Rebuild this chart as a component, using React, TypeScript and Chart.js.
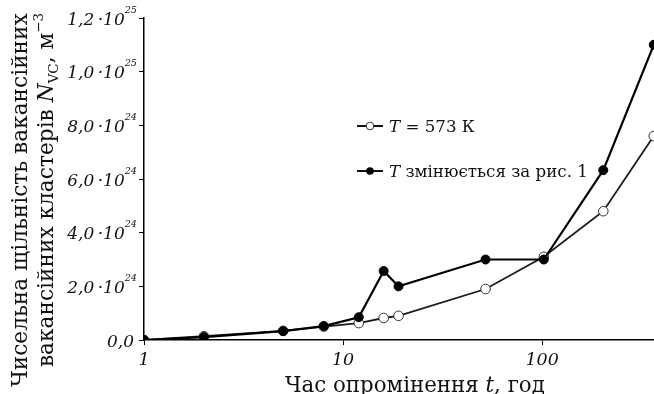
import React, { useEffect, useRef } from 'react';
import { Chart, registerables } from 'chart.js';

Chart.register(...registerables);

// ---- data ----
const hoursConst = [1, 2, 5, 8, 12, 16, 19, 52, 102, 203, 364];
const densityConst = [0, 0.14e24, 0.34e24, 0.5e24, 0.63e24, 0.82e24, 0.9e24, 1.9e24, 3.1e24, 4.8e24, 7.6e24];
const hoursVar = [1, 2, 5, 8, 12, 16, 19, 52, 102, 203, 364];
const densityVar = [0, 0.11e24, 0.33e24, 0.52e24, 0.85e24, 2.57e24, 2.0e24, 3.0e24, 3.0e24, 6.33e24, 1.1e25];

const xTickValues = [1, 10, 100];
const xTickLabels = ['1', '10', '100'];
const yTickValues = [0, 2e24, 4e24, 6e24, 8e24, 1e25, 1.2e25];
const yTickMantissas = ['0,0', '2,0', '4,0', '6,0', '8,0', '1,0', '1,2'];
const yTickExponents = ['', '24', '24', '24', '24', '25', '25'];

const legendSymbols = ['T', 'T'];
const legendTexts = [' = 573 К', ' змінюється за рис. 1'];
const yTitleLine1 = 'Чисельна щільність вакансійних';
const yTitleLine2 = 'вакансійних кластерів ';
const xTitleStart = 'Час опромінення ';
const xTitleEnd = ', год';

const SERIF = '"DejaVu Serif", "Liberation Serif", serif';
const INK = '#111';

type Run = { text: string; style?: string; scale?: number; dy?: number };

function runsWidth(ctx: CanvasRenderingContext2D, runs: Run[], size: number) {
  let w = 0;
  for (const r of runs) {
    ctx.font = `${r.style || 'normal'} ${size * (r.scale || 1)}px ${SERIF}`;
    w += ctx.measureText(r.text).width;
  }
  return w;
}

function drawRuns(ctx: CanvasRenderingContext2D, runs: Run[], x: number, y: number, size: number) {
  let cx = x;
  for (const r of runs) {
    ctx.font = `${r.style || 'normal'} ${size * (r.scale || 1)}px ${SERIF}`;
    ctx.fillText(r.text, cx, y + (r.dy || 0) * size);
    cx += ctx.measureText(r.text).width;
  }
}

function fitSize(ctx: CanvasRenderingContext2D, runs: Run[], target: number) {
  const base = 20;
  return (base * target) / runsWidth(ctx, runs, base);
}

const decorPlugin = {
  id: 'decor',
  afterDraw(chart: any) {
    const ctx: CanvasRenderingContext2D = chart.ctx;
    const xs = chart.scales.x;
    const ys = chart.scales.y;
    ctx.save();
    ctx.fillStyle = INK;
    ctx.strokeStyle = INK;
    ctx.textAlign = 'left';
    ctx.textBaseline = 'alphabetic';

    // y tick labels
    yTickValues.forEach((v, i) => {
      const py = ys.getPixelForValue(v);
      const exp = yTickExponents[i];
      const runs: Run[] = exp
        ? [
            { text: yTickMantissas[i] + '\u2009·10', style: 'italic' },
            { text: exp, style: 'italic', scale: 0.57, dy: -0.7 },
          ]
        : [{ text: yTickMantissas[i], style: 'italic' }];
      const size = 17;
      const w = runsWidth(ctx, runs, size);
      const right = exp ? 137 : 134;
      drawRuns(ctx, runs, right - w, py + 6.5, size);
    });

    // x tick labels
    xTickValues.forEach((v, i) => {
      const px = xs.getPixelForValue(v);
      const runs: Run[] = [{ text: xTickLabels[i], style: 'italic' }];
      const size = 17.5;
      const w = runsWidth(ctx, runs, size);
      drawRuns(ctx, runs, px - w / 2, 365, size);
    });

    // x title
    const xRuns: Run[] = [
      { text: xTitleStart },
      { text: 't', style: 'italic' },
      { text: xTitleEnd },
    ];
    const xSize = fitSize(ctx, xRuns, 260);
    drawRuns(ctx, xRuns, 285, 392, xSize);

    // y title (rotated)
    const l1: Run[] = [{ text: yTitleLine1 }];
    const l2: Run[] = [
      { text: yTitleLine2 },
      { text: 'N', style: 'italic' },
      { text: 'VC', scale: 0.62, dy: 0.22 },
      { text: ', м' },
      { text: '−3', scale: 0.62, dy: -0.45 },
    ];
    const ySize = fitSize(ctx, l1, 374);
    ctx.save();
    ctx.translate(27, 387);
    ctx.rotate(-Math.PI / 2);
    drawRuns(ctx, l1, 0, 0, ySize);
    ctx.restore();
    const w2 = runsWidth(ctx, l2, ySize);
    ctx.save();
    ctx.translate(53, 190 + w2 / 2);
    ctx.rotate(-Math.PI / 2);
    drawRuns(ctx, l2, 0, 0, ySize);
    ctx.restore();

    // legend
    const legRuns = legendSymbols.map((s, i) => [
      { text: s, style: 'italic' },
      { text: legendTexts[i] },
    ] as Run[]);
    const legSize = fitSize(ctx, legRuns[1], 199);
    const rowsY = [126, 171];
    rowsY.forEach((ry, i) => {
      ctx.beginPath();
      ctx.lineWidth = 2;
      ctx.moveTo(357, ry);
      ctx.lineTo(383, ry);
      ctx.stroke();
      ctx.beginPath();
      ctx.arc(370, ry, 3.8, 0, Math.PI * 2);
      if (i === 0) {
        ctx.fillStyle = '#fff';
        ctx.fill();
        ctx.lineWidth = 1;
        ctx.strokeStyle = '#333';
        ctx.stroke();
        ctx.strokeStyle = INK;
      } else {
        ctx.fillStyle = '#000';
        ctx.fill();
      }
      ctx.fillStyle = INK;
      drawRuns(ctx, legRuns[i], 389, ry + 6, legSize);
    });

    ctx.restore();
  },
};

export default function App() {
  const canvasRef = useRef<HTMLCanvasElement | null>(null);

  useEffect(() => {
    if (!canvasRef.current) return;
    const chart = new Chart(canvasRef.current, {
      type: 'line',
      data: {
        datasets: [
          {
            label: 'T = 573 К',
            data: hoursConst.map((x, i) => ({ x, y: densityConst[i] })),
            borderColor: '#1a1a1a',
            borderWidth: 1.8,
            pointRadius: 4.8,
            pointBackgroundColor: '#fff',
            pointBorderColor: '#333',
            pointBorderWidth: 1,
            tension: 0,
            order: 2,
          },
          {
            label: 'T змінюється за рис. 1',
            data: hoursVar.map((x, i) => ({ x, y: densityVar[i] })),
            borderColor: '#000',
            borderWidth: 2.2,
            pointRadius: 4.5,
            pointBackgroundColor: '#000',
            pointBorderColor: '#000',
            pointBorderWidth: 1,
            tension: 0,
            order: 1,
          },
        ],
      },
      options: {
        animation: false,
        responsive: false,
        devicePixelRatio: 1,
        parsing: true,
        layout: { autoPadding: false, padding: { top: 18, right: 0, left: 0, bottom: 0 } },
        plugins: { legend: { display: false }, tooltip: { enabled: false } },
        scales: {
          x: {
            type: 'logarithmic',
            min: 1,
            max: 365,
            afterBuildTicks: (s: any) => {
              s.ticks = xTickValues.map((v) => ({ value: v }));
            },
            afterFit: (s: any) => {
              s.height = 54;
            },
            ticks: { display: false },
            grid: { display: true, drawOnChartArea: false, drawTicks: true, tickLength: 5, color: '#000', lineWidth: 1 },
            border: { display: true, color: '#000', width: 1.5 },
          },
          y: {
            type: 'linear',
            min: 0,
            max: 1.2e25,
            afterBuildTicks: (s: any) => {
              s.ticks = yTickValues.map((v) => ({ value: v }));
            },
            afterFit: (s: any) => {
              s.width = 144;
            },
            ticks: { display: false },
            grid: { display: true, drawOnChartArea: false, drawTicks: true, tickLength: 5, color: '#000', lineWidth: 1 },
            border: { display: true, color: '#000', width: 1.5 },
          },
        },
      },
      plugins: [decorPlugin],
    } as any);
    return () => chart.destroy();
  }, []);

  return (
    <div style={{ position: 'fixed', left: 0, top: 0, width: 654, height: 394, background: '#fff' }}>
      <canvas ref={canvasRef} width={654} height={394} style={{ display: 'block' }} />
    </div>
  );
}
